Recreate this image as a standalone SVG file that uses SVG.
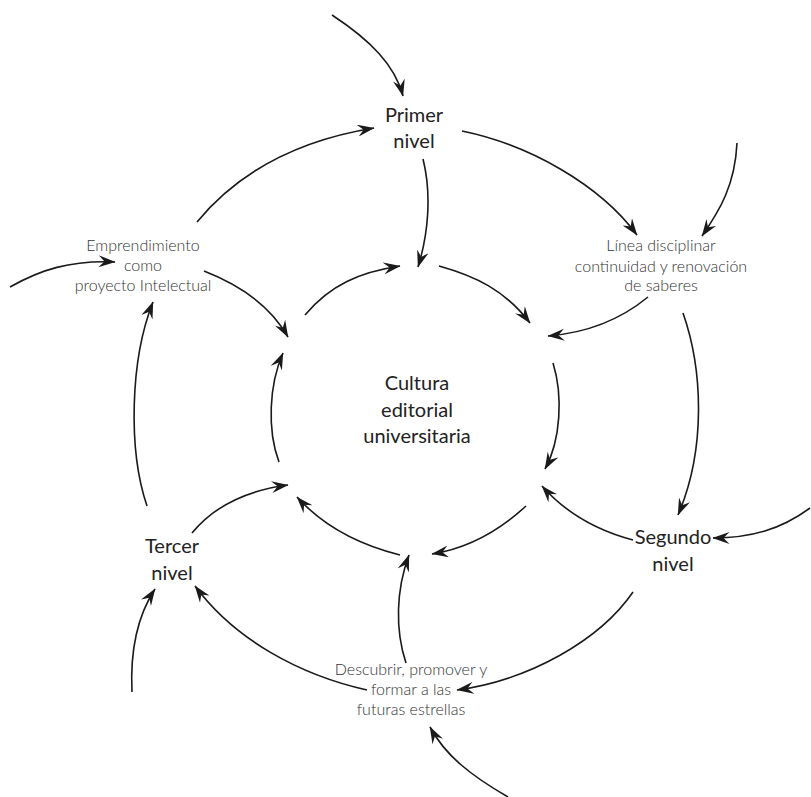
<svg xmlns="http://www.w3.org/2000/svg" width="811" height="797" viewBox="0 0 811 797">
<style>
  .big { font-family: Lato, "Liberation Sans", sans-serif; font-size: 20px; fill: #222; text-anchor: middle; }
  .small { font-family: Lato, "Liberation Sans", sans-serif; font-size: 16px; font-weight: 300; fill: #333; text-anchor: middle; }
  .c { fill: none; stroke: #1a1a1a; stroke-width: 1.6; marker-end: url(#ah); }
</style>
<defs>
  <marker id="ah" viewBox="0 0 17 12" refX="16.5" refY="6" markerWidth="17" markerHeight="12" markerUnits="userSpaceOnUse" orient="auto">
    <path d="M0,0 L17,6 L0,12 L6,6 Z" fill="#1a1a1a"/>
  </marker>
</defs>
<rect width="811" height="797" fill="#fff"/>
<g id="connectors">
  <path class="c" d="M332,15 C370,40 395,65 403,96"/>
  <path class="c" d="M737,143 C735,185 720,210 702,236"/>
  <path class="c" d="M10,287 C40,270 70,260 115,262"/>
  <path class="c" d="M810,508 C780,530 750,538 713,538"/>
  <path class="c" d="M132,692 C130,650 138,615 155,589"/>
  <path class="c" d="M508,797 C470,775 445,755 430,727"/>
  <path class="c" d="M197,222 C240,170 300,140 374,128"/>
  <path class="c" d="M462,131 C530,145 600,185 637,235"/>
  <path class="c" d="M683,313 C703,370 706,450 678,515"/>
  <path class="c" d="M633,592 C600,640 530,680 457,690"/>
  <path class="c" d="M367,690 C300,675 235,640 195,586"/>
  <path class="c" d="M147,506 C128,450 130,360 153,302"/>
  <path class="c" d="M423,159 C432,195 428,235 418,267"/>
  <path class="c" d="M648,297 C620,320 585,333 548,336"/>
  <path class="c" d="M633,540 C595,530 565,512 542,486"/>
  <path class="c" d="M406,663 C395,630 396,590 409,555"/>
  <path class="c" d="M192,533 C215,505 250,490 288,485"/>
  <path class="c" d="M204,271 C240,285 270,305 288,337"/>
  <path class="c" d="M305,315 C330,285 360,272 400,266"/>
  <path class="c" d="M439,266 C475,276 505,290 530,323"/>
  <path class="c" d="M553,363 C563,395 561,440 545,469"/>
  <path class="c" d="M526,506 C500,530 470,548 432,554"/>
  <path class="c" d="M400,555 C360,545 325,528 297,497"/>
  <path class="c" d="M279,462 C267,430 269,385 283,353"/>
</g>
<g id="primer">
  <text class="big" x="414" y="122">Primer</text>
  <text class="big" x="414" y="148">nivel</text>
</g>
<g id="emprendimiento">
  <text class="small" x="143" y="251">Emprendimiento</text>
  <text class="small" x="143" y="271">como</text>
  <text class="small" x="143" y="291">proyecto Intelectual</text>
</g>
<g id="linea">
  <text class="small" x="661" y="251">Línea disciplinar</text>
  <text class="small" x="661" y="272">continuidad y renovación</text>
  <text class="small" x="661" y="291">de saberes</text>
</g>
<g id="cultura">
  <text class="big" x="417" y="390">Cultura</text>
  <text class="big" x="417" y="417">editorial</text>
  <text class="big" x="417" y="443">universitaria</text>
</g>
<g id="segundo">
  <text class="big" x="673" y="544">Segundo</text>
  <text class="big" x="673" y="571">nivel</text>
</g>
<g id="tercer">
  <text class="big" x="172" y="553">Tercer</text>
  <text class="big" x="172" y="580">nivel</text>
</g>
<g id="descubrir">
  <text class="small" x="411" y="675">Descubrir, promover y</text>
  <text class="small" x="411" y="695">formar a las</text>
  <text class="small" x="411" y="715">futuras estrellas</text>
</g>
</svg>
